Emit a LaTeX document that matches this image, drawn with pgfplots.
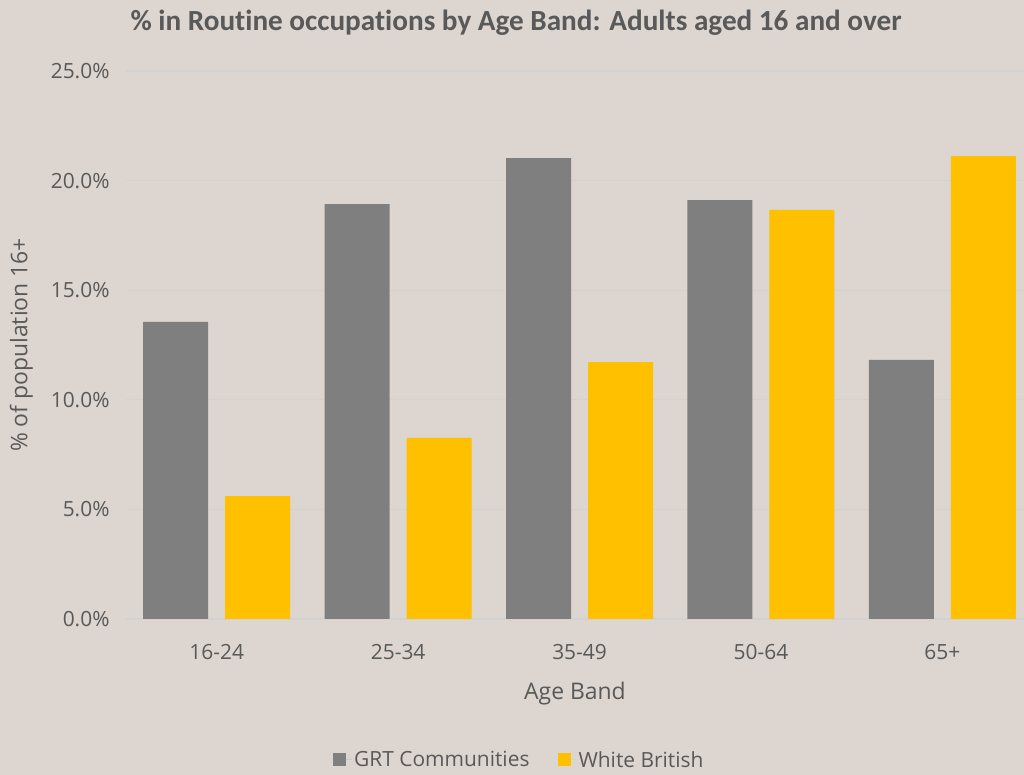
\documentclass[border=0pt]{standalone}
\usepackage{pgfplots}
\pgfplotsset{compat=1.18}
\usepackage{fontspec}
\setmainfont{Open Sans}
\newfontfamily\titlefont[Ligatures=NoCommon]{Carlito}
\definecolor{bgc}{RGB}{220,213,208}
\definecolor{txt}{RGB}{89,89,89}
\definecolor{grt}{RGB}{127,127,127}
\definecolor{wb}{RGB}{255,192,0}
\definecolor{gridc}{RGB}{210,210,210}
\begin{document}
\begin{tikzpicture}
\useasboundingbox (0,0) rectangle (1024bp,775bp);
\fill[bgc] (0,0) rectangle (1024bp,775bp);
\node[text=txt, font=\titlefont\bfseries\fontsize{29.3}{34}\selectfont] at (516bp,752bp) {\% in Routine occupations by Age Band: Adults aged 16 and over};
\begin{axis}[
  at={(126bp,156bp)}, anchor=south west,
  scale only axis, width=898bp, height=548bp,
  xmin=-0.5, xmax=4.45, ymin=0, ymax=25,
  axis line style={draw=none},
  ytick={0,5,10,15,20,25},
  yticklabels={0.0\%,5.0\%,10.0\%,15.0\%,20.0\%,25.0\%},
  xtick={0,1,2,3,4},
  xticklabels={16-24,25-34,35-49,50-64,65+},
  major tick length=0pt,
  ymajorgrids, grid style={gridc, line width=1.2bp},
  tick label style={text=txt, font=\fontsize{21}{25}\selectfont},
  yticklabel style={xshift=-13bp},
  xticklabel style={yshift=-22bp},
  xlabel={Age Band}, ylabel={\% of population 16+},
  label style={text=txt, font=\fontsize{23}{27}\selectfont},
  xlabel style={yshift=-15bp},
  ylabel style={yshift=11bp},
  ybar, bar width=65bp,
  legend columns=2,
  legend style={at={(0.438,-0.257)}, anchor=center, draw=none, fill=none,
    font=\fontsize{21}{25}\selectfont, text=txt,
    /tikz/every even column/.append style={column sep=26bp}},
  legend image code/.code={\fill[#1] (0bp,-6.5bp) rectangle (13bp,6.5bp); \path (0bp,0bp) -- (19bp,0bp);},
]
\addplot[fill=grt, draw=none, bar shift=-41bp] coordinates {(0,13.55) (1,18.93) (2,21.03) (3,19.11) (4,11.82)};
\addplot[fill=wb, draw=none, bar shift=41bp] coordinates {(0,5.61) (1,8.26) (2,11.72) (3,18.66) (4,21.12)};
\legend{GRT Communities, White British}
\end{axis}
\end{tikzpicture}
\end{document}
